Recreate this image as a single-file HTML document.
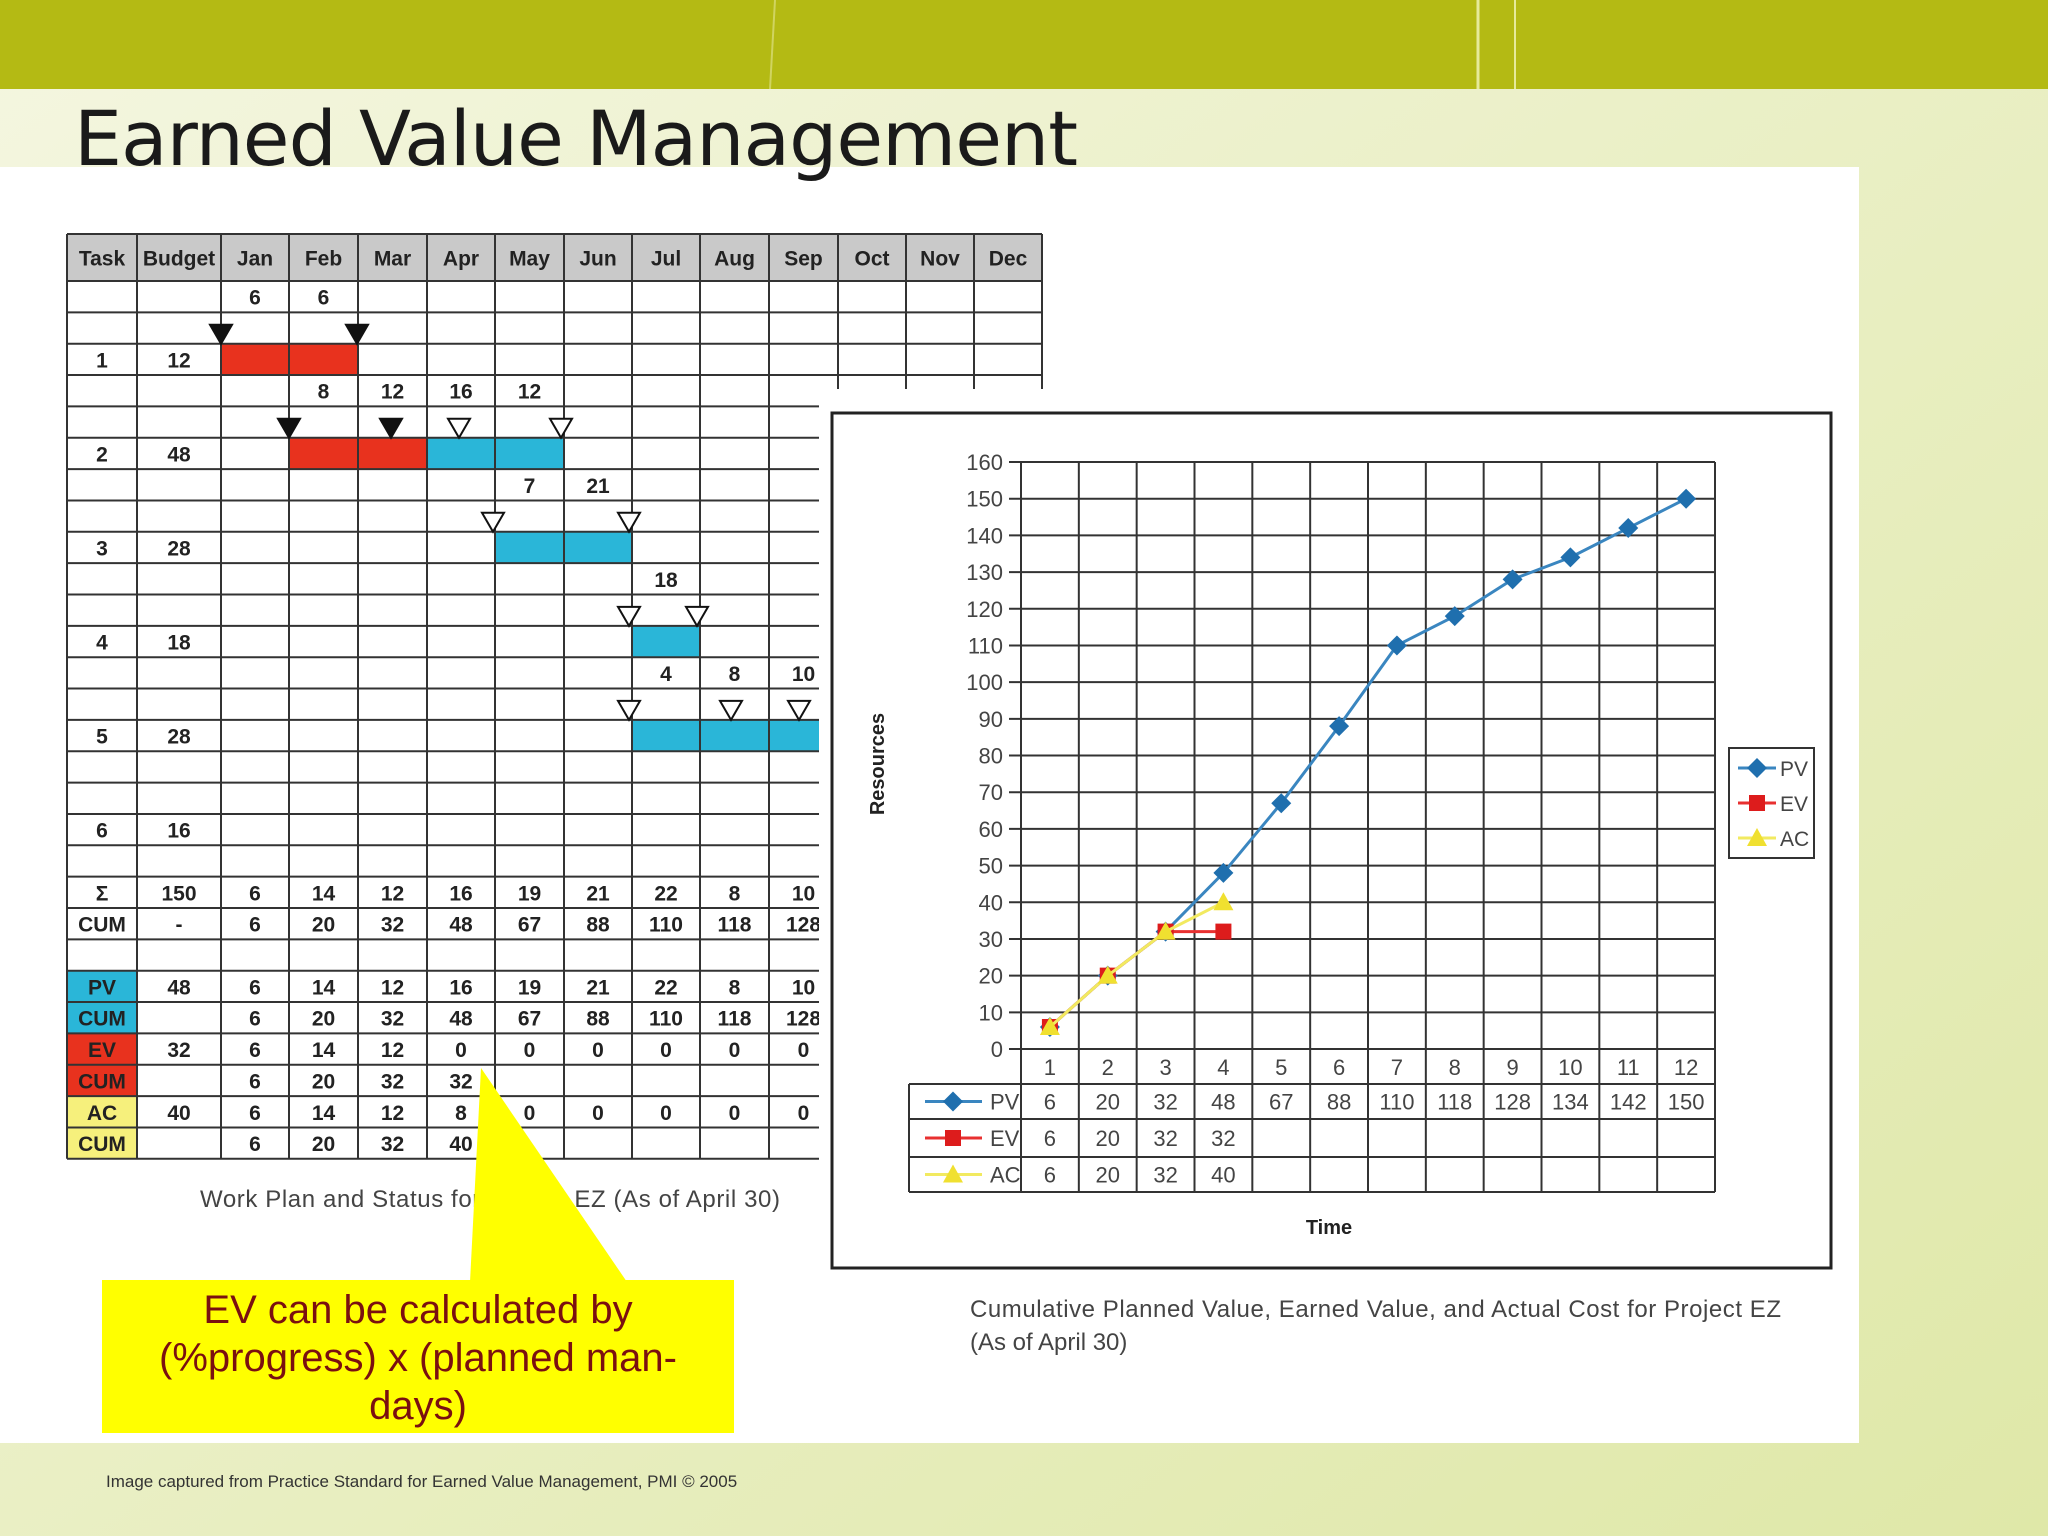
<!DOCTYPE html>
<html><head><meta charset="utf-8"><style>
html,body{margin:0;padding:0;width:2048px;height:1536px;overflow:hidden;background:#eef2d2}
svg{display:block}
text{font-family:"Liberation Sans",sans-serif}
</style></head><body>
<svg id="s" width="2048" height="1536" viewBox="0 0 2048 1536" xmlns="http://www.w3.org/2000/svg">
<defs>
<linearGradient id="bg" x1="0" y1="0" x2="1" y2="1"><stop offset="0" stop-color="#f4f6e0"/><stop offset="1" stop-color="#dfe8a8"/></linearGradient>
</defs>
<rect width="2048" height="1536" fill="url(#bg)"/>
<rect width="2048" height="89" fill="#b4ba14"/>
<line x1="1478" y1="0" x2="1478" y2="89" stroke="#e6ea9a" stroke-width="3"/>
<line x1="1515" y1="0" x2="1515" y2="89" stroke="#e6ea9a" stroke-width="2"/>
<line x1="775" y1="0" x2="770" y2="89" stroke="#d0d460" stroke-width="2"/>
<rect x="0" y="167" width="1859" height="1276" fill="#ffffff"/>
<text x="74" y="165" font-size="76" fill="#1a1a1a" style="font-family:'DejaVu Sans','Liberation Sans',sans-serif" textLength="1004">Earned Value Management</text>
<g id="tbl"></g>
<rect x="819" y="389" width="1040" height="1054" fill="#ffffff"/>
<text x="200" y="1207" font-size="24" fill="#444" textLength="580">Work Plan and Status for Project EZ (As of April 30)</text>
<g id="chart"></g>
<text x="970" y="1317" font-size="24" fill="#444" textLength="811">Cumulative Planned Value, Earned Value, and Actual Cost for Project EZ</text>
<text x="970" y="1350" font-size="24" fill="#444">(As of April 30)</text>
<polygon points="470,1282 627,1282 481,1068" fill="#ffff00"/>
<rect x="102" y="1280" width="632" height="153" fill="#ffff00"/>
<g font-size="40" fill="#7a1010" text-anchor="middle">
<text x="418" y="1323">EV can be calculated by</text>
<text x="418" y="1371">(%progress) x (planned man-</text>
<text x="418" y="1419">days)</text>
</g>
<text x="106" y="1487" font-size="17" fill="#333">Image captured from Practice Standard for Earned Value Management, PMI  © 2005</text>
</svg>
<script>
const NS="http://www.w3.org/2000/svg";
function mk(tag,attrs,parent,txt){const e=document.createElementNS(NS,tag);for(const k in attrs)e.setAttribute(k,attrs[k]);if(txt!==undefined)e.textContent=txt;parent.appendChild(e);return e;}

/* ---------- work plan table ---------- */
const months=["Jan","Feb","Mar","Apr","May","Jun","Jul","Aug","Sep","Oct","Nov","Dec"];
const taskBudgets=[12,48,28,18,28,16];
const sumRow=[6,14,12,16,19,21,22,8,10];
const cumRow=[6,20,32,48,67,88,110,118,128];
const pvRow=[6,14,12,16,19,21,22,8,10];
const pvCumRow=[6,20,32,48,67,88,110,118,128];
const evRow=[6,14,12,0,0,0,0,0,0];
const evCumRow=[6,20,32,32];
const acRow=[6,14,12,8,0,0,0,0,0];
const acCumRow=[6,20,32,40];
const bars=[[0,0,2,"r"],[1,1,3,"r"],[1,3,5,"b"],[2,4,6,"b"],[3,6,7,"b"],[4,6,9,"b"]];
const monthNums=[[0,0,6],[0,1,6],[3,1,8],[3,2,12],[3,3,16],[3,4,12],[6,4,7],[6,5,21],[9,6,18],[12,6,4],[12,7,8],[12,8,10]];
const tris=[[1,0,1],[1,2,1],[4,1,1],[4,2.5,1],[4,3.5,0],[4,5,0],[7,4,0],[7,6,0],[10,6,0],[10,7,0],[13,6,0],[13,7.5,0],[13,8.5,0]];

const T=document.getElementById('tbl');
const colX=[67,137,221,289,358,427,495,564,632,700,769,838,906,974,1042];
const hdrTop=234,hdrBot=281,rowH=31.35,nRows=28;
const rowY=r=>hdrBot+r*rowH;
const RED="#e8321e",BLUE="#2ab6d8",YEL="#f6f07c";
mk('rect',{x:67,y:hdrTop,width:975,height:hdrBot-hdrTop,fill:"#c9c9c9"},T);
[[22,BLUE],[23,BLUE],[24,RED],[25,RED],[26,YEL],[27,YEL]].forEach(([r,c])=>{const e=mk('rect',{x:67,y:rowY(r),width:70,height:rowH,fill:c},T);});
bars.forEach(([t,a,b,c])=>{const e=mk('rect',{x:colX[2+a],y:rowY(t*3+2),width:colX[2+b]-colX[2+a],height:rowH,fill:c=="r"?RED:BLUE},T);});
for(let r=0;r<=nRows;r++)mk('line',{x1:67,y1:rowY(r),x2:1042,y2:rowY(r),stroke:"#333","stroke-width":2},T);
mk('line',{x1:67,y1:hdrTop,x2:1042,y2:hdrTop,stroke:"#333","stroke-width":2},T);
colX.forEach(x=>mk('line',{x1:x,y1:hdrTop,x2:x,y2:rowY(nRows),stroke:"#333","stroke-width":2},T));
const cx=i=>(colX[i]+colX[i+1])/2;
function cell(r,ci,txt,hdr){const y=hdr?(hdrTop+hdrBot)/2+8:rowY(r)+rowH/2+8;const e=mk('text',{x:cx(ci),y:y,"font-size":21,"font-weight":"bold","text-anchor":"middle",fill:"#222"},T,String(txt));}
cell(0,0,"Task",1);cell(0,1,"Budget",1);months.forEach((m,i)=>cell(0,2+i,m,1));
taskBudgets.forEach((b,i)=>{cell(i*3+2,0,i+1);cell(i*3+2,1,b);});
monthNums.forEach(([r,m,v])=>cell(r,2+m,v));
tris.forEach(([r,b,f])=>{const x=colX[2]+b*(colX[3]-colX[2]);const y2=rowY(r+1),y1=y2-19;const e=mk('polygon',{points:`${x-11},${y1} ${x+11},${y1} ${x},${y2}`,fill:f?"#111":"#fff",stroke:"#111","stroke-width":2},T);});
function rowVals(r,label,budget,vals){cell(r,0,label);if(budget!=="")cell(r,1,budget);vals.forEach((v,i)=>cell(r,2+i,v));}
rowVals(19,"Σ",150,sumRow);rowVals(20,"CUM","-",cumRow);
rowVals(22,"PV",48,pvRow);rowVals(23,"CUM","",pvCumRow);
rowVals(24,"EV",32,evRow);rowVals(25,"CUM","",evCumRow);
rowVals(26,"AC",40,acRow);rowVals(27,"CUM","",acCumRow);

/* ---------- chart ---------- */
const periods=["1","2","3","4","5","6","7","8","9","10","11","12"];
const pvVals=[6,20,32,48,67,88,110,118,128,134,142,150];
const evVals=[6,20,32,32];
const acVals=[6,20,32,40];
const yTicks=[0,10,20,30,40,50,60,70,80,90,100,110,120,130,140,150,160];

const C=document.getElementById('chart');
const L=1021,R=1715,TOP=462,BOT=1049,YMAX=160;
const colW=(R-L)/periods.length;
const xs=i=>L+(i+0.5)*colW;
const ys=v=>BOT-v*(BOT-TOP)/YMAX;
mk('rect',{x:832,y:413,width:999,height:855,fill:"none",stroke:"#222","stroke-width":3},C);
const rowsB=[1084,1119,1157,1192];
yTicks.forEach(v=>{mk('line',{x1:L-12,y1:ys(v),x2:R,y2:ys(v),stroke:"#333","stroke-width":2},C);const t=mk('text',{x:L-18,y:ys(v)+8,"font-size":22,"text-anchor":"end",fill:"#444"},C,String(v));});
for(let i=0;i<=periods.length;i++){const x=L+i*colW;mk('line',{x1:x,y1:TOP,x2:x,y2:rowsB[3],stroke:"#333","stroke-width":2},C);}
rowsB.forEach(y=>mk('line',{x1:909,y1:y,x2:R,y2:y,stroke:"#333","stroke-width":2},C));
mk('line',{x1:909,y1:rowsB[0],x2:909,y2:rowsB[3],stroke:"#333","stroke-width":2},C);
periods.forEach((p,i)=>{const t=mk('text',{x:xs(i),y:1075,"font-size":22,"text-anchor":"middle",fill:"#444"},C,p);});
const series=[["PV",pvVals,"#3a86c0","#1f6fae","d"],["EV",evVals,"#e83030","#dd1c1c","s"],["AC",acVals,"#f2ea60","#f0e030","t"]];
function marker(type,x,y,col,p){let e;if(type=="d")e=mk('polygon',{points:`${x},${y-10} ${x+10},${y} ${x},${y+10} ${x-10},${y}`,fill:col},p);else if(type=="s")e=mk('rect',{x:x-8,y:y-8,width:16,height:16,fill:col},p);else e=mk('polygon',{points:`${x},${y-10} ${x+10},${y+8} ${x-10},${y+8}`,fill:col},p);return e;}
series.forEach(([name,vals,lc,mc,mt],si)=>{
  const g=mk('g',{},C);
  mk('polyline',{points:vals.map((v,i)=>xs(i)+","+ys(v)).join(" "),fill:"none",stroke:lc,"stroke-width":3},g);
  vals.forEach((v,i)=>{const m=marker(mt,xs(i),ys(v),mc,g);});
  const ry=(rowsB[si]+rowsB[si+1])/2;
  mk('line',{x1:925,y1:ry,x2:982,y2:ry,stroke:lc,"stroke-width":3},C);marker(mt,953,ry,mc,C);
  mk('text',{x:990,y:ry+8,"font-size":22,fill:"#444"},C,name);
  vals.forEach((v,i)=>{const t=mk('text',{x:xs(i),y:ry+8,"font-size":22,"text-anchor":"middle",fill:"#444"},C,String(v));});
  const ly=768+si*35;
  mk('line',{x1:1738,y1:ly,x2:1776,y2:ly,stroke:lc,"stroke-width":3},C);marker(mt,1757,ly,mc,C);
  const lt=mk('text',{x:1780,y:ly+8,"font-size":21,fill:"#444"},C,name);
});
const lg=mk('rect',{x:1729,y:748,width:85,height:110,fill:"none",stroke:"#333","stroke-width":2},C);
const yt=mk('text',{x:0,y:0,"font-size":20,"font-weight":"bold","text-anchor":"middle",fill:"#222",transform:"translate(884,764) rotate(-90)"},C,"Resources");
const xt=mk('text',{x:1329,y:1234,"font-size":20,"font-weight":"bold","text-anchor":"middle",fill:"#222"},C,"Time");
</script>
</body></html>
